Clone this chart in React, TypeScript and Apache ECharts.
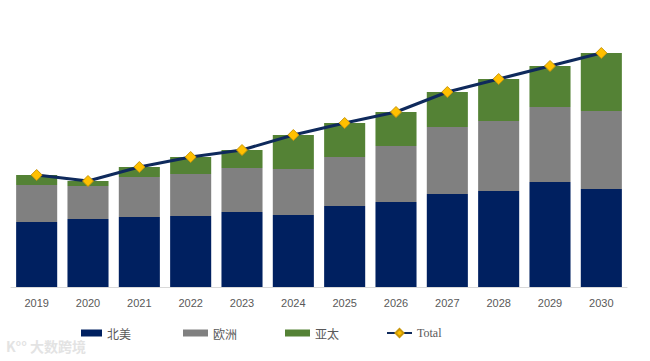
import React, { useEffect, useRef } from "react";
import * as echarts from "echarts";

const years = ["2019", "2020", "2021", "2022", "2023", "2024", "2025", "2026", "2027", "2028", "2029", "2030"];
const northAmerica = [26.0, 27.2, 28.0, 28.4, 30.0, 28.8, 32.4, 34.0, 37.2, 38.4, 42.0, 39.2];
const europe = [14.8, 13.2, 16.0, 16.8, 17.6, 18.4, 19.6, 22.4, 26.8, 28.0, 30.0, 31.2];
const asiaPacific = [4.0, 2.0, 4.0, 6.8, 7.2, 13.6, 13.6, 13.6, 14.0, 16.8, 16.4, 23.2];
const totals = years.map((_, i) => +(northAmerica[i] + europe[i] + asiaPacific[i]).toFixed(1));

export default function App() {
  const ref = useRef<HTMLDivElement>(null);
  useEffect(() => {
    document.body.style.margin = "0";
    const chart = echarts.init(ref.current!, null, { renderer: "svg" });
    const legendText = { color: "#595959", fontSize: 12, fontFamily: "'Noto Sans CJK SC', 'Liberation Serif', serif" };
    const mkLegend = (name: string, left: number, w: number, h: number) => ({
      data: [name],
      left,
      top: 322,
      itemWidth: w,
      itemHeight: h,
      itemGap: 4,
      textStyle: legendText,
      icon: name === "Total" ? undefined : "rect",
    });
    chart.setOption({
      animation: false,
      grid: { left: 11, right: 23, top: 37, bottom: 74 },
      legend: [
        mkLegend("北美", 76, 21, 7),
        mkLegend("欧洲", 178, 25, 7),
        mkLegend("亚太", 280, 25, 7),
        { ...mkLegend("Total", 381, 25, 10), textStyle: { ...legendText, fontFamily: "'Liberation Serif', serif" } },
      ],
      xAxis: {
        type: "category",
        data: years,
        axisLine: { lineStyle: { color: "#d9d9d9", width: 1 } },
        axisTick: { show: false },
        axisLabel: { color: "#595959", fontSize: 11, fontFamily: "'Liberation Sans', Arial, sans-serif", margin: 10 },
      },
      yAxis: {
        type: "value",
        min: 0,
        max: 100,
        show: false,
        splitLine: { show: false },
      },
      series: [
        { name: "北美", type: "bar", stack: "s", data: northAmerica, barCategoryGap: "20%", itemStyle: { color: "#002060" } },
        { name: "欧洲", type: "bar", stack: "s", data: europe, itemStyle: { color: "#808080" } },
        { name: "亚太", type: "bar", stack: "s", data: asiaPacific, itemStyle: { color: "#548235" } },
        {
          name: "Total",
          type: "line",
          data: totals,
          z: 5,
          symbol: "diamond",
          symbolSize: 11,
          lineStyle: { color: "#0f2a5c", width: 3 },
          itemStyle: { color: "#FFC000", borderColor: "#C9970A", borderWidth: 1 },
        },
      ],
      graphic: [
        {
          type: "text",
          left: 6,
          top: 339,
          style: { text: "K°° 大数跨境", fill: "#e3e3e3", fontSize: 14, fontWeight: "bold", fontFamily: "'Noto Sans CJK SC', sans-serif" },
        },
      ],
    });
    return () => chart.dispose();
  }, []);
  return <div ref={ref} style={{ width: 650, height: 361 }} />;
}
